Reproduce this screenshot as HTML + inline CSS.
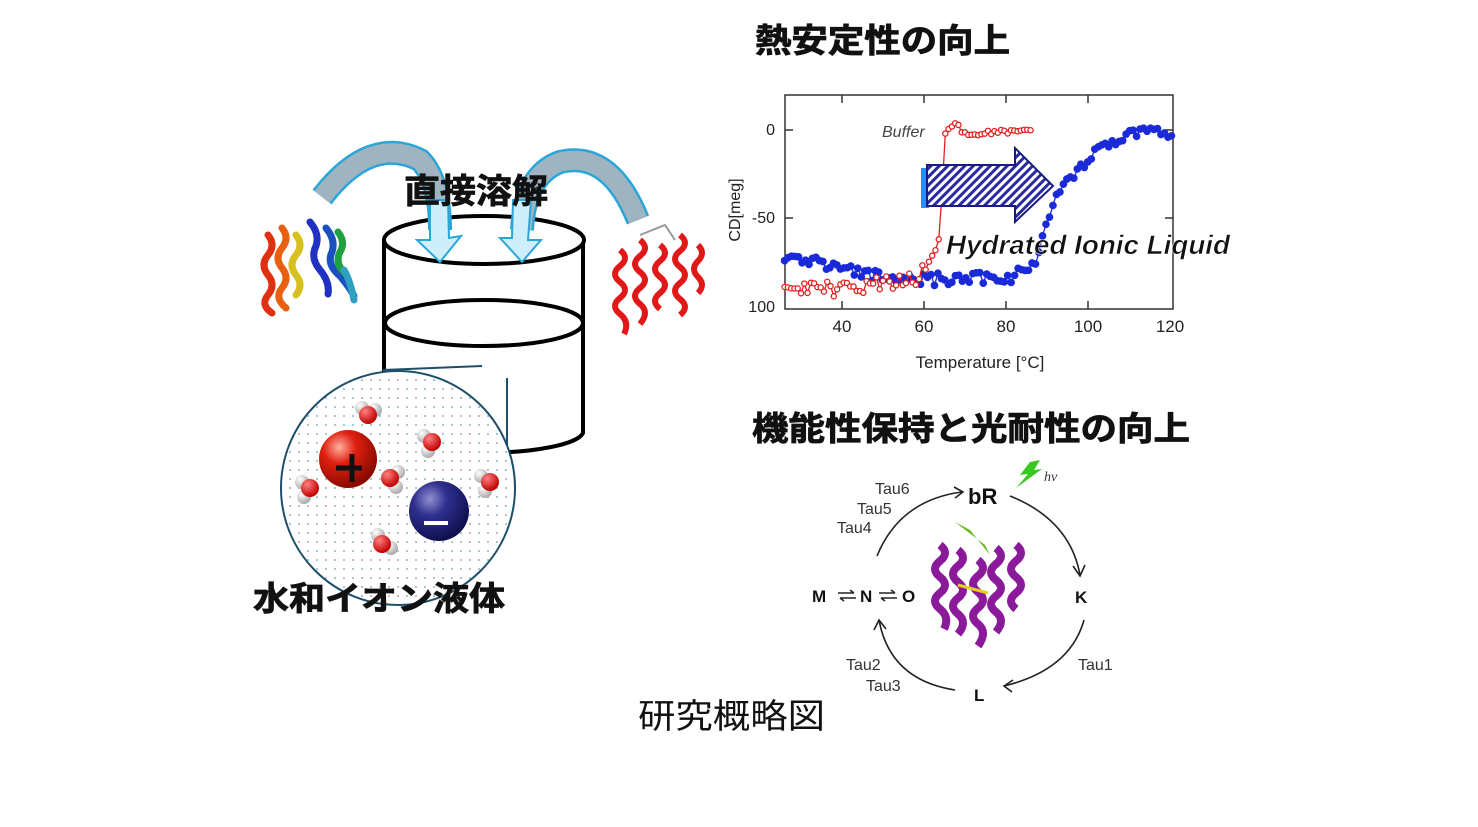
<!DOCTYPE html>
<html><head><meta charset="utf-8"><style>
html,body{margin:0;padding:0;background:#fff;}
svg{display:block;}
.jp{font-family:"Liberation Sans","Noto Sans CJK JP",sans-serif;}
</style></head><body>
<svg id="s" width="1478" height="827" viewBox="0 0 1478 827" xmlns="http://www.w3.org/2000/svg">
<defs>
<pattern id="dots" width="9" height="9" patternUnits="userSpaceOnUse"><circle cx="2" cy="2" r="1" fill="#4a7fa0"/></pattern>
<pattern id="hatch" width="6" height="6" patternUnits="userSpaceOnUse" patternTransform="rotate(45)"><rect width="6" height="6" fill="#fff"/><rect width="3" height="6" fill="#2a2aa0"/></pattern>
<radialGradient id="rg" cx="0.35" cy="0.3" r="0.7"><stop offset="0" stop-color="#ffb0a0"/><stop offset="0.4" stop-color="#e02010"/><stop offset="1" stop-color="#8a0a00"/></radialGradient>
<radialGradient id="bg" cx="0.35" cy="0.3" r="0.7"><stop offset="0" stop-color="#9090d0"/><stop offset="0.4" stop-color="#303090"/><stop offset="1" stop-color="#101050"/></radialGradient>
<radialGradient id="wr" cx="0.35" cy="0.3" r="0.7"><stop offset="0" stop-color="#ff8080"/><stop offset="1" stop-color="#c00000"/></radialGradient>
<radialGradient id="wh" cx="0.35" cy="0.3" r="0.7"><stop offset="0" stop-color="#fff"/><stop offset="1" stop-color="#aaa"/></radialGradient>
</defs>

<!-- cylinder -->
<g fill="none" stroke="#000" stroke-width="4">
<path d="M384 240 L384 433 A100 22 0 0 0 583 433 L583 240"/>
<ellipse cx="484" cy="240" rx="100" ry="24" fill="#fff"/>
<ellipse cx="484" cy="323" rx="99" ry="23"/>
</g>

<!-- curved arrows -->
<g>
<path d="M322 197 Q370 135 420 160 Q440 180 440 230" fill="none" stroke="#2aa6d8" stroke-width="24"/>
<path d="M322 197 Q370 135 420 160 Q440 180 440 230" fill="none" stroke="#9fb3c0" stroke-width="19"/>
<path d="M638 220 Q610 150 560 162 Q525 175 522 230" fill="none" stroke="#2aa6d8" stroke-width="24"/>
<path d="M638 220 Q610 150 560 162 Q525 175 522 230" fill="none" stroke="#9fb3c0" stroke-width="19"/>
<path d="M430 200 L448 200 L449 238 L461 236 L440 262 L417 240 L430 240 Z" fill="#cdeefa" stroke="#2aa6d8" stroke-width="2"/>
<path d="M513 200 L531 200 L528 240 L541 240 L522 262 L500 238 L512 238 Z" fill="#cdeefa" stroke="#2aa6d8" stroke-width="2"/>
</g>
<text x="404" y="203" class="jp" font-size="34" font-weight="bold" fill="#111" stroke="#111" stroke-width="0.8" textLength="144" lengthAdjust="spacingAndGlyphs">直接溶解</text>

<!-- left protein -->
<g fill="none" stroke-width="7" stroke-linecap="round">
<path d="M268 235 q8 10 0 20 q-8 10 0 20 q8 10 0 20 q-8 10 4 18" stroke="#e03010"/>
<path d="M282 228 q8 10 0 20 q-8 10 0 20 q8 10 0 20 q-8 10 4 20" stroke="#e86010"/>
<path d="M296 235 q8 10 0 20 q-8 10 0 20 q8 10 0 20" stroke="#d8c020"/>
<path d="M310 222 q10 12 6 24 q-6 12 4 24 q10 12 8 24" stroke="#2030c0"/>
<path d="M326 228 q10 12 6 24 q-6 12 8 24 q10 12 14 20" stroke="#1a50c0"/>
<path d="M338 232 q8 10 2 20 q-6 12 6 22" stroke="#20a040"/>
<path d="M344 270 q6 10 10 30" stroke="#30a0c0"/>
</g>
<!-- right protein -->
<g fill="none" stroke="#e01818" stroke-width="6">
<path d="M620 250 q10 8 0 16 q-10 8 0 16 q10 8 0 16 q-10 8 0 16 q10 8 4 20"/>
<path d="M640 240 q10 8 0 16 q-10 8 0 16 q10 8 0 16 q-10 8 0 16 q10 8 0 20"/>
<path d="M660 245 q10 8 0 16 q-10 8 0 16 q10 8 0 16 q-10 8 0 16"/>
<path d="M680 235 q10 8 0 16 q-10 8 0 16 q10 8 0 16 q-10 8 0 16 q10 8 0 16"/>
<path d="M698 245 q8 8 0 16 q-8 8 0 16 q8 8 0 16"/>
</g>
<path d="M640 235 l25 -10 l10 15" fill="none" stroke="#999" stroke-width="2"/>

<!-- zoom circle -->
<line x1="383" y1="370" x2="482" y2="366" stroke="#1d4f6b" stroke-width="2"/>
<line x1="507" y1="378" x2="507" y2="452" stroke="#1d4f6b" stroke-width="2"/>
<circle cx="398" cy="488" r="117" fill="#fff" stroke="#1d4f6b" stroke-width="2"/>
<circle cx="398" cy="488" r="116" fill="url(#dots)" opacity="0.6"/>
<circle cx="348" cy="459" r="29" fill="url(#rg)"/>
<path d="M336 468 h26 M352 454 v28" stroke="#111" stroke-width="5"/>
<circle cx="439" cy="511" r="30" fill="url(#bg)"/>
<path d="M424 523 h24" stroke="#fff" stroke-width="4"/>
<g>
<g transform="translate(368,412)"><circle cx="-6" cy="-4" r="7" fill="url(#wh)"/><circle cx="7" cy="-2" r="7" fill="url(#wh)"/><circle cx="0" cy="3" r="9" fill="url(#wr)"/></g>
<g transform="translate(430,442)"><circle cx="-6" cy="-6" r="7" fill="url(#wh)"/><circle cx="-2" cy="9" r="7" fill="url(#wh)"/><circle cx="2" cy="0" r="9" fill="url(#wr)"/></g>
<g transform="translate(390,478)"><circle cx="8" cy="-6" r="7" fill="url(#wh)"/><circle cx="6" cy="9" r="7" fill="url(#wh)"/><circle cx="0" cy="0" r="9" fill="url(#wr)"/></g>
<g transform="translate(308,488)"><circle cx="-6" cy="-6" r="7" fill="url(#wh)"/><circle cx="-4" cy="9" r="7" fill="url(#wh)"/><circle cx="2" cy="0" r="9" fill="url(#wr)"/></g>
<g transform="translate(487,482)"><circle cx="-6" cy="-6" r="7" fill="url(#wh)"/><circle cx="-2" cy="9" r="7" fill="url(#wh)"/><circle cx="3" cy="0" r="9" fill="url(#wr)"/></g>
<g transform="translate(382,543)"><circle cx="-4" cy="-8" r="7" fill="url(#wh)"/><circle cx="9" cy="5" r="7" fill="url(#wh)"/><circle cx="0" cy="1" r="9" fill="url(#wr)"/></g>
</g>
<text x="253" y="610" class="jp" font-size="33" font-weight="bold" fill="#111" stroke="#111" stroke-width="0.8" textLength="252" lengthAdjust="spacingAndGlyphs">水和イオン液体</text>

<!-- title right -->
<text x="755" y="52" class="jp" font-size="33" font-weight="bold" fill="#111" stroke="#111" stroke-width="0.8" textLength="255" lengthAdjust="spacingAndGlyphs">熱安定性の向上</text>

<!-- plot -->
<g>
<rect x="785" y="95" width="388" height="214" fill="none" stroke="#333" stroke-width="1.5"/>
<g stroke="#333" stroke-width="1.5">
<path d="M842 95v8M924 95v8M1006 95v8M1088 95v8M842 309v-8M924 309v-8M1006 309v-8M1088 309v-8"/>
<path d="M785 130h8M785 218h8M1173 130h-8M1173 218h-8"/>
</g>
<g font-family="Liberation Sans,sans-serif" font-size="16" fill="#222">
<text x="775" y="135" text-anchor="end">0</text>
<text x="775" y="223" text-anchor="end">-50</text>
<text x="775" y="312" text-anchor="end">100</text>
<text x="842" y="332" text-anchor="middle" font-size="17">40</text>
<text x="924" y="332" text-anchor="middle" font-size="17">60</text>
<text x="1006" y="332" text-anchor="middle" font-size="17">80</text>
<text x="1088" y="332" text-anchor="middle" font-size="17">100</text>
<text x="1170" y="332" text-anchor="middle" font-size="17">120</text>
<text x="980" y="368" text-anchor="middle" font-size="17">Temperature [°C]</text>
<text x="0" y="0" transform="translate(740,210) rotate(-90)" text-anchor="middle" font-size="16">CD[meg]</text>
<text x="882" y="137" font-style="italic" font-size="16" fill="#444">Buffer</text>
</g>
<g id="blue"></g><g id="red"></g>
<rect x="921" y="168" width="8" height="40" fill="#2a8cff"/>
<path d="M927 165 H1015 V148 L1053 186 L1015 222 V206 H927 Z" fill="url(#hatch)" stroke="#1a1a80" stroke-width="2"/>
<text x="946" y="254" font-family="Liberation Sans,sans-serif" font-size="27" font-style="italic" font-weight="bold" fill="#111" stroke="#fff" stroke-width="0.6" textLength="284" lengthAdjust="spacingAndGlyphs">Hydrated Ionic Liquid</text>
</g>

<!-- bottom right -->
<text x="752" y="440" class="jp" font-size="33" font-weight="bold" fill="#111" stroke="#111" stroke-width="0.8" textLength="438" lengthAdjust="spacingAndGlyphs">機能性保持と光耐性の向上</text>
<g font-family="Liberation Sans,sans-serif" fill="#333" font-size="16">
<text x="875" y="494">Tau6</text><text x="857" y="514">Tau5</text><text x="837" y="533">Tau4</text>
<text x="846" y="670">Tau2</text><text x="866" y="691">Tau3</text><text x="1078" y="670">Tau1</text>
</g>
<g font-family="Liberation Sans,sans-serif" font-weight="bold" fill="#111">
<text x="968" y="504" font-size="22">bR</text>
<text x="1075" y="603" font-size="17">K</text>
<text x="974" y="701" font-size="17">L</text>
<text x="812" y="602" font-size="17">M</text>
<text x="860" y="602" font-size="17">N</text>
<text x="902" y="602" font-size="17">O</text>
</g>
<text x="1044" y="481" font-family="Liberation Serif,serif" font-style="italic" font-size="14" fill="#333">hν</text>
<path d="M1030 462 L1040 460 L1034 470 L1042 469 L1016 488 L1028 474 L1020 475 Z" fill="#3ac820"/>
<g fill="none" stroke="#222" stroke-width="1.6">
<path d="M877 556 Q900 500 962 492"/><path d="M954 487 L963 492 L955 498"/>
<path d="M1010 496 Q1070 520 1080 575"/><path d="M1073 566 L1080 576 L1085 565"/>
<path d="M1084 620 Q1070 670 1004 686"/><path d="M1013 680 L1004 686 L1012 692"/>
<path d="M955 690 Q890 680 879 620"/><path d="M874 630 L879 620 L886 629"/>
<path d="M838 593 h16 M850 590 l4 3 M840 598 h16 M840 598 l4 3"/>
<path d="M879 593 h16 M891 590 l4 3 M881 598 h16 M881 598 l4 3"/>
</g>
<g fill="none" stroke="#8a1a9a" stroke-width="8">
<path d="M940 545 q10 8 0 16 q-10 8 0 16 q10 8 0 16 q-10 8 0 16 q10 8 4 20"/>
<path d="M958 550 q10 8 0 16 q-10 8 0 16 q10 8 0 16 q-10 8 0 16 q10 8 0 20"/>
<path d="M978 560 q10 8 0 16 q-10 8 0 16 q10 8 0 16 q-10 8 0 16 q10 8 0 22"/>
<path d="M996 548 q10 8 0 16 q-10 8 0 16 q10 8 0 16 q-10 8 0 16 q10 8 0 20"/>
<path d="M1016 545 q10 8 0 16 q-10 8 0 16 q10 8 0 16 q-10 8 0 16"/>
</g>
<path d="M955 522 L985 545 L990 555 L970 530 Z" fill="#6ab820"/>
<path d="M958 585 l30 8" stroke="#e0d020" stroke-width="3"/>

<text x="638" y="728" class="jp" font-size="34" fill="#111" textLength="187" lengthAdjust="spacingAndGlyphs">研究概略図</text>
</svg>
<script>
(function(){
var ns="http://www.w3.org/2000/svg";
function X(t){return 842+(t-40)*4.1;}
function Y(v){return 130-v*1.76;}
function rnd(i){var s=Math.sin(i*12.9898)*43758.5453;return s-Math.floor(s);}
function interp(k,t){for(var i=0;i<k.length-1;i++){if(t<=k[i+1][0]){var a=k[i],b=k[i+1];return a[1]+(b[1]-a[1])*(t-a[0])/(b[0]-a[0]);}}return k[k.length-1][1];}
function draw(g,pts,col,fill,r){
 var d="";pts.forEach(function(p,i){d+=(i?"L":"M")+X(p[0]).toFixed(1)+" "+Y(p[1]).toFixed(1);});
 var pa=document.createElementNS(ns,"path");pa.setAttribute("d",d);pa.setAttribute("stroke",col);pa.setAttribute("fill","none");pa.setAttribute("stroke-width","1.3");g.appendChild(pa);
 pts.forEach(function(p){var c=document.createElementNS(ns,"circle");c.setAttribute("cx",X(p[0]));c.setAttribute("cy",Y(p[1]));c.setAttribute("r",r);c.setAttribute("fill",fill);c.setAttribute("stroke",col);c.setAttribute("stroke-width","1.3");g.appendChild(c);});
}
var bk=[[26,-72],[35,-76],[45,-82],[60,-85],[80,-84],[86,-80],[89,-62],[91,-45],[94,-30],[99,-20],[103,-10],[109,-4],[113,0],[121,-2]];
var b=[];for(var t=26;t<=121;t+=0.85){var v=interp(bk,t)+(rnd(t*3)-0.5)*(t<88?7:5);if(v>1)v=1;b.push([t,v]);}
draw(document.getElementById("blue"),b,"#1a2ad8","#1a2ad8",3.2);
var rk=[[26,-91],[40,-90],[55,-86],[59,-83],[61,-76],[63,-68],[64,-58],[65,-2],[66.5,2],[68,3],[69.5,-2],[72,-2],[86,0]];
var r=[];for(var t=26;t<=86;t+=0.8){var v=interp(rk,t)+(rnd(t*7)-0.5)*(t<60?9:2.5);r.push([t,v]);}
draw(document.getElementById("red"),r,"#e02020","#fff",2.6);
})();
</script>
</body></html>
